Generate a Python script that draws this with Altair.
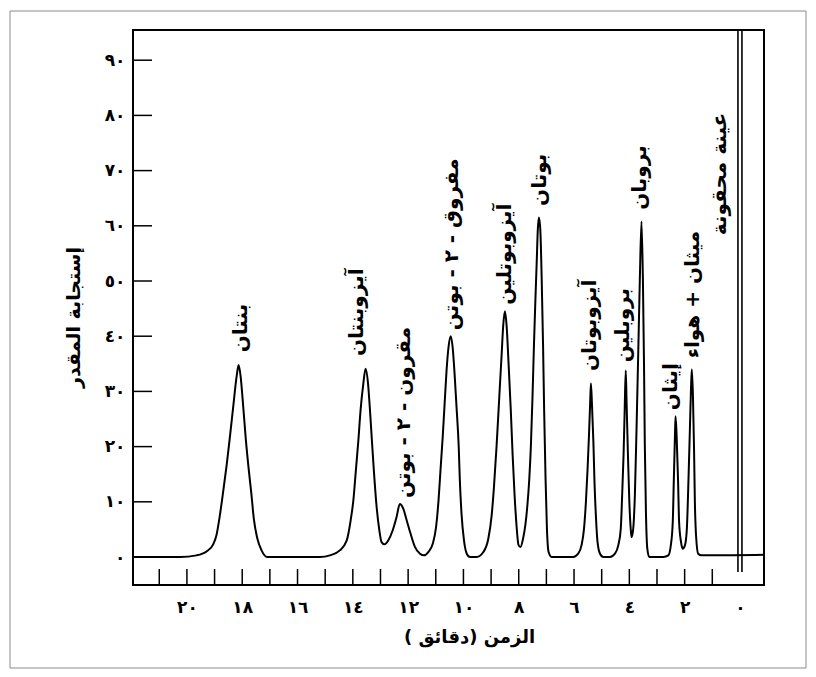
import altair as alt
import pandas as pd

# ---- chromatogram trace (time in minutes, detector response) ----
trace_time = [21.95, 20.25, 19.65, 19.29, 19.05, 18.93, 18.81, 18.69, 18.56, 18.44, 18.33, 18.20,
              18.13, 18.06, 17.96, 17.87, 17.77, 17.67, 17.58, 17.46, 17.30, 17.10,
              15.19, 14.83, 14.47, 14.22, 14.08, 13.98, 13.89, 13.80, 13.72, 13.62, 13.54,
              13.45, 13.38, 13.31, 13.24, 13.14, 13.04, 12.96, 12.86, 12.72, 12.56, 12.42,
              12.30, 12.18, 12.05, 11.91, 11.75, 11.57, 11.43, 11.27, 11.11, 10.99, 10.90,
              10.83, 10.75, 10.68, 10.61, 10.54, 10.46, 10.39, 10.32, 10.25, 10.17, 10.13,
              10.07, 9.98, 9.88, 9.76, 9.52, 9.28, 9.10, 8.98, 8.90, 8.80, 8.70, 8.62, 8.56,
              8.50, 8.44, 8.37, 8.29, 8.22, 8.15, 8.08, 8.01, 7.94, 7.84, 7.76, 7.69, 7.62,
              7.56, 7.50, 7.45, 7.40, 7.35, 7.31, 7.27, 7.22, 7.17, 7.12, 7.08, 7.03, 6.98, 6.92,
              6.81, 6.03, 5.85, 5.73, 5.64, 5.57, 5.51, 5.46, 5.42, 5.39, 5.35, 5.30, 5.26,
              5.21, 5.15, 5.06, 4.94, 4.70, 4.52, 4.40, 4.31, 4.26, 4.21, 4.17, 4.13, 4.10,
              4.05, 4.00, 3.95, 3.92, 3.86, 3.80, 3.74, 3.68, 3.62, 3.56, 3.51, 3.47, 3.44,
              3.40, 3.35, 3.28, 2.77, 2.59, 2.50, 2.43, 2.39, 2.35, 2.33, 2.29, 2.24, 2.20,
              2.13, 2.07, 1.99, 1.92, 1.86, 1.81, 1.77, 1.74, 1.70, 1.66, 1.63, 1.58, 1.51,
              1.39, 1.08, -0.87]
trace_response = [0.0, 0.0, 0.3, 1.0, 2.3, 4.0, 7.5, 11.8, 16.8, 22.0, 27.0, 32.8,
                  34.8, 32.8, 27.0, 21.3, 16.1, 11.5, 6.9, 3.5, 1.2, 0.0,
                  0.0, 0.3, 1.2, 3.0, 6.6, 10.3, 15.7, 21.1, 26.6, 31.4, 34.1,
                  31.4, 26.6, 21.1, 15.7, 9.1, 4.8, 2.7, 2.3, 3.0, 4.8, 7.2,
                  9.6, 8.8, 6.6, 4.2, 1.8, 0.6, 0.3, 0.9, 2.4, 5.4, 10.3,
                  15.7, 21.7, 27.8, 33.8, 38.0, 40.0, 38.0, 33.2, 27.2, 19.9, 13.9,
                  7.9, 3.0, 0.6, 0.0, 0.0, 0.9, 3.3, 7.5, 12.4, 20.2, 29.3, 36.5, 42.0,
                  44.5, 42.0, 35.3, 26.9, 18.4, 11.2, 5.7, 2.2, 1.8, 3.4, 5.8, 9.2, 14.0,
                  20.2, 29.3, 38.3, 46.2, 53.4, 59.3, 61.5, 59.3, 50.4, 38.3, 26.3, 14.2, 5.1, 0.9,
                  0.0, 0.0, 0.6, 2.1, 5.1, 10.0, 16.0, 22.0, 27.5, 31.5, 27.5, 20.8, 13.6,
                  7.5, 2.7, 0.6, 0.0, 0.0, 0.6, 2.1, 5.1, 11.2, 18.4, 26.3, 33.8, 28.1,
                  18.4, 10.0, 5.1, 3.6, 5.1, 11.2, 23.2, 36.5, 50.4, 60.8, 50.4, 35.3, 20.2,
                  8.2, 1.5, 0.0, 0.0, 0.3, 2.1, 6.3, 14.2, 22.0, 25.5, 22.0, 14.2, 6.3,
                  2.7, 1.5, 2.1, 5.1, 14.2, 23.2, 30.5, 34.0, 29.3, 19.6, 10.0, 3.3, 0.6,
                  0.3, 0.3, 0.4]

# ---- peak annotations ----
peak_names = ["بنتان", "آيزوبنتان", "مقرون - ٢ - بوتن", "مفروق - ٢ - بوتن", "آيزوبوتلين",
              "بوتان", "آيزوبوتان", "بروبلين", "بروبان", "إيثان", "ميثان + هواء", "عينة محقونة"]
label_time = [18.05, 13.85, 12.15, 10.42, 8.50, 7.23, 5.42, 4.23, 3.62, 2.50, 1.70, 0.72]
label_base = [37.1, 36.4, 10.7, 41.1, 45.7, 63.6, 33.7, 35.3, 62.9, 26.6, 36.0, 58.3]

# injection marker (double line)
injection_time = [0.0]
injection_top = [95.47]
injection_bottom = [-2.7]

# ---- axes ----
x_tick_values = [0, 2, 4, 6, 8, 10, 12, 14, 16, 18, 20]
x_tick_labels = ["٠", "٢", "٤", "٦", "٨", "١٠", "١٢", "١٤", "١٦", "١٨", "٢٠"]
y_tick_values = [0, 10, 20, 30, 40, 50, 60, 70, 80, 90]
y_tick_labels = ["٠", "١٠", "٢٠", "٣٠", "٤٠", "٥٠", "٦٠", "٧٠", "٨٠", "٩٠"]
x_minor_ticks = list(range(1, 22))
y_tick_marks = [10, 20, 30, 40, 50, 60, 70, 80, 90]

x_title = "الزمن (دقائق )"
y_title = "إستجابة المقدر"

RLM = "\u200f"
FONT = "DejaVu Sans"

trace_df = pd.DataFrame({"t": trace_time, "v": trace_response})
label_df = pd.DataFrame({"t": label_time, "v": label_base,
                         "name": [RLM + n + RLM for n in peak_names]})
inj_df = pd.DataFrame({"t": injection_time, "v": injection_top, "v2": injection_bottom})
xt_df = pd.DataFrame({"t": x_minor_ticks})
yt_df = pd.DataFrame({"v": y_tick_marks})
one_df = pd.DataFrame({"k": [0]})

x_label_expr = "[" + ",".join(f"'{s}'" for s in x_tick_labels) + "][round(datum.value / 2)]"
y_label_expr = "[" + ",".join(f"'{s}'" for s in y_tick_labels) + "][round(datum.value / 10)]"

x_scale = alt.Scale(domain=[-0.87, 21.95], reverse=True, nice=False, zero=False)
y_scale = alt.Scale(domain=[-5.07, 95.47], nice=False, zero=False)

x_axis = alt.Axis(values=x_tick_values, labelExpr=x_label_expr, ticks=False, domain=False,
                  grid=False, labelPadding=14, labelFontSize=17, labelFont=FONT,
                  labelFontWeight="bold", labelColor="black",
                  title=RLM + x_title + RLM, titleFont=FONT, titleFontSize=18,
                  titleFontWeight="bold", titleColor="black",
                  titleX=336, titleY=52, titleAlign="center", titleBaseline="middle")
y_axis = alt.Axis(values=y_tick_values, labelExpr=y_label_expr, ticks=False, domain=False,
                  grid=False, labelPadding=8, labelFontSize=17, labelFont=FONT,
                  labelFontWeight="bold", labelColor="black",
                  title=RLM + y_title + RLM, titleFont=FONT, titleFontSize=19,
                  titleFontWeight="bold", titleColor="black", titleAngle=270,
                  titleX=-60, titleY=287, titleAlign="center", titleBaseline="middle")

X = alt.X("t:Q", scale=x_scale, axis=x_axis)
Y = alt.Y("v:Q", scale=y_scale, axis=y_axis)

outer = alt.Chart(one_df).mark_rect(fillOpacity=0, stroke="#8a8a8a", strokeWidth=1).encode(
    x=alt.value(-123), x2=alt.value(673), y=alt.value(-19), y2=alt.value(638))

line = alt.Chart(trace_df).mark_line(color="black", strokeWidth=2, interpolate="monotone").encode(
    x=X, y=Y, order=alt.Order("t:Q", sort="descending"))

inj_a = alt.Chart(inj_df).mark_rule(color="black", strokeWidth=1.6, xOffset=-2).encode(
    x=X, y=Y, y2="v2:Q")
inj_b = alt.Chart(inj_df).mark_rule(color="black", strokeWidth=1.6, xOffset=2).encode(
    x=X, y=Y, y2="v2:Q")

xticks = alt.Chart(xt_df).mark_rule(color="black", strokeWidth=1.5).encode(
    x=X, y=alt.value(555), y2=alt.value(539))
yticks = alt.Chart(yt_df).mark_rule(color="black", strokeWidth=1.5).encode(
    y=Y, x=alt.value(0), x2=alt.value(19))

labels = alt.Chart(label_df).mark_text(angle=270, align="left", baseline="middle",
                                       fontSize=20, font=FONT, fontWeight="bold",
                                       color="black").encode(
    x=X, y=Y, text="name:N")

chart = alt.layer(outer, line, inj_a, inj_b, xticks, yticks, labels).properties(
    width=631, height=555, autosize="none",
    padding={"left": 125, "top": 22, "right": 44, "bottom": 84},
    background="white",
).configure_view(stroke="black", strokeWidth=2)

chart.save("out.html", embed_options={"renderer": "svg", "actions": False})
